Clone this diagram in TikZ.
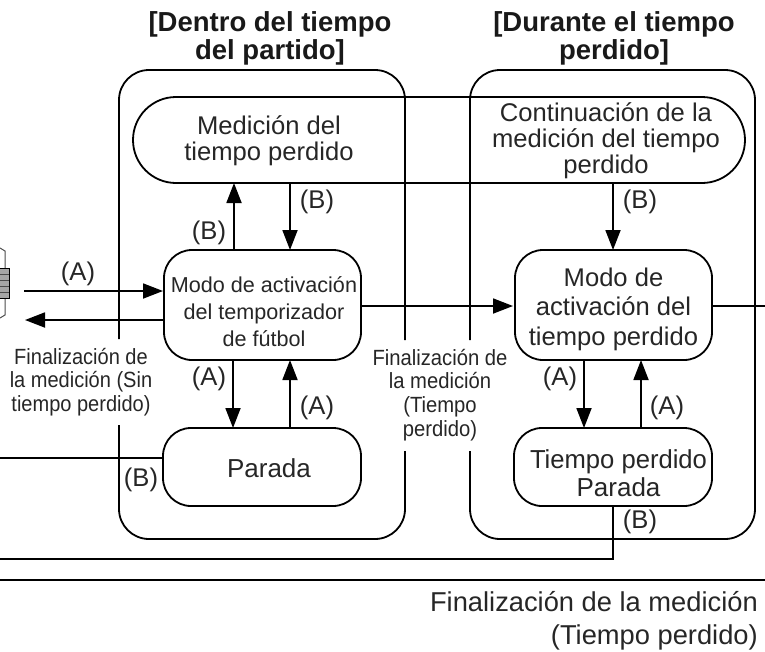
\documentclass[tikz,border=0pt]{standalone}
\usepackage{fontspec}
\setmainfont{Liberation Sans}
\usetikzlibrary{arrows.meta}
\newcommand{\fs}[2]{\fontsize{#1}{#2}\selectfont}
\tikzset{
  x=1pt,y=-1pt,
  box/.style={draw=black,line width=1.8pt,rounded corners=#1},
  frameline/.style={draw=black,line width=1.8pt,rounded corners=30pt},
  conn/.style={draw=black,line width=1.8pt,-{Triangle[length=20pt,width=15pt]}},
  plainconn/.style={draw=black,line width=1.8pt},
  lab/.style={inner sep=0pt,align=center,text=black!85,font=\fs{25.6}{25.8}},
  small/.style={inner sep=0pt,align=center,text=black!85,font=\fs{22}{23.7}},
  title/.style={inner sep=0pt,align=center,text=black!90,font=\fs{27.5}{28}\bfseries},
}
\begin{document}
\begin{tikzpicture}
\useasboundingbox (0,0) rectangle (765,651);
% frames
\draw[frameline] (119,339) -- (119,70) -- (405,70) -- (405,340);
\draw[frameline] (119,425) -- (119,539) -- (405,539) -- (405,451);
\draw[frameline] (470,340) -- (470,70) -- (755,70) -- (755,539) -- (470,539) -- (470,451);
% titles
\node[title] (t1) at (270,38.5) {[Dentro del tiempo\\del partido]};
\node[title] (t2) at (614,38.5) {[Durante el tiempo\\perdido]};
% nodes
\node[box=43pt,minimum width=612pt,minimum height=86pt,inner sep=0pt] (med) at (439,140) {};
\node[lab] (medt) at (269,141) {Medición del\\tiempo perdido};
\node[lab] (cont) at (606,141) {Continuación de la\\medición del tiempo\\perdido};
\node[box=28pt,minimum width=197pt,minimum height=110pt,inner sep=0pt] (modo) at (262.5,305) {};
\node[small,font=\fs{21.6}{27}] (modot) at (264,312) {Modo de activación\\del temporizador\\de fútbol};
\node[box=28pt,minimum width=197pt,minimum height=110pt,inner sep=0pt] (act) at (613.5,305) {};
\node[lab,font=\fs{25.6}{29.5}] (actt) at (613.5,309) {Modo de\\activación del\\tiempo perdido};
\node[box=28pt,minimum width=198pt,minimum height=78pt,inner sep=0pt] (par) at (262,467) {};
\node[lab,font=\fs{26}{28}] (part) at (269,468) {Parada};
\node[box=28pt,minimum width=198pt,minimum height=78pt,inner sep=0pt] (tpp) at (613,467) {};
\node[lab,font=\fs{26}{28}] (tppt) at (618.5,473) {\scalebox{.985}[1]{Tiempo perdido}\\Parada};
% free ends
\coordinate (ain) at (24,291);
\coordinate (fout) at (25,320);
\coordinate (lp) at (0,458);
\coordinate (lb) at (0,559);
\coordinate (rout) at (765,306);
\coordinate (cb) at (613,559);
\coordinate (sepl) at (0,580);
\coordinate (sepr) at (765,580);
% connectors
\draw[conn] (234,250) -- (234,183);
\draw[conn] (290,183) -- (290,250);
\draw[conn] (233,360) -- (233,428);
\draw[conn] (290,428) -- (290,360);
\draw[conn] (584,360) -- (584,428);
\draw[conn] (641,428) -- (641,360);
\draw[conn] (613,183) -- (613,250);
\draw[conn] (361,306) -- (513,306);
\draw[conn] (ain) -- (163,291);
\draw[conn] (163,320) -- (fout);
\draw[plainconn] (712,306) -- (rout);
\draw[plainconn] (163,458) -- (lp);
\draw[plainconn] (613,506) -- (cb) -- (lb);
\draw[black,line width=1.8pt] (sepl) -- (sepr);
% device
\draw[line width=1pt,draw=black!70] (0,248) -- (5,251) -- (5,268);
\draw[line width=1pt,draw=black!70] (5,298) -- (5,315) -- (0,318);
\fill[black!35] (0,268) rectangle (9,298);
\draw[line width=1pt,black] (0,268) -- (9,268) -- (9,298) -- (0,298);
\foreach \yy in {274,280,286,292} \draw[line width=.8pt,black!70] (0,\yy) -- (9,\yy);
% labels
\node[lab] (la1) at (78,274) {(A)};
\node[lab] (lb1) at (209,233) {(B)};
\node[lab] (lb2) at (317,202) {(B)};
\node[lab] (lb3) at (640,202) {(B)};
\node[lab] (la2) at (209,379) {(A)};
\node[lab] (la3) at (317,408) {(A)};
\node[lab] (la4) at (560,379) {(A)};
\node[lab] (la5) at (667,408) {(A)};
\node[lab] (lb4) at (141,480) {(B)};
\node[lab] (lb5) at (640,522) {(B)};
\node[small] (f1) at (81,382) {\scalebox{.91}[1]{Finalización de}\\\scalebox{.91}[1]{la medición (Sin}\\\scalebox{.91}[1]{tiempo perdido)}};
\node[small] (f2) at (440,395) {\scalebox{.92}[1]{Finalización de}\\\scalebox{.92}[1]{la medición}\\\scalebox{.92}[1]{(Tiempo}\\\scalebox{.92}[1]{perdido)}};
\node[lab,font=\fs{27.3}{33.5},align=right,anchor=north east] (f3) at (758,591) {Finalización de la medición\\(Tiempo perdido)};
\end{tikzpicture}
\end{document}
